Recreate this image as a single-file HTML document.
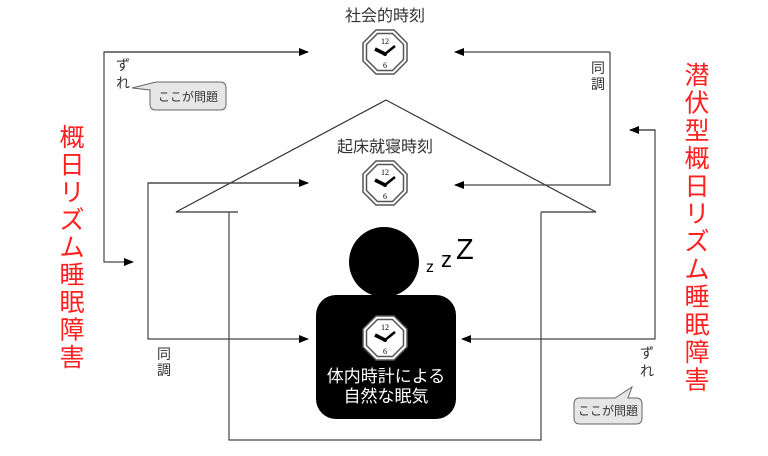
<!DOCTYPE html>
<html><head><meta charset="utf-8"><style>
body{margin:0;background:#fff;}
svg text{font-family:"Liberation Sans","Noto Sans CJK JP",sans-serif;}
</style></head><body>
<svg width="768" height="451" viewBox="0 0 768 451" xmlns="http://www.w3.org/2000/svg">
<defs>
<marker id="a" markerWidth="10" markerHeight="8" refX="9" refY="4" orient="auto" markerUnits="userSpaceOnUse"><path d="M0,0 L10,4 L0,8z" fill="#000"/></marker>
<g id="clk">
<polygon points="-9,-22 9,-22 22,-9 22,9 9,22 -9,22 -22,9 -22,-9" fill="#fff" stroke="#555" stroke-width="1.5"/>
<polygon points="-7.5,-18.5 7.5,-18.5 18.5,-7.5 18.5,7.5 7.5,18.5 -7.5,18.5 -18.5,7.5 -18.5,-7.5" fill="#fff" stroke="#555" stroke-width="1.5"/>
<text x="0" y="-8" font-size="8" text-anchor="middle" style="font-family:'Liberation Serif',serif">12</text>
<text x="0" y="16" font-size="8" text-anchor="middle" style="font-family:'Liberation Serif',serif">6</text>
<line x1="0" y1="2" x2="-10" y2="-3" stroke="#000" stroke-width="3.5"/>
<line x1="0" y1="2" x2="10" y2="-6" stroke="#000" stroke-width="2.5"/>
<circle cx="0" cy="2" r="2" fill="#000"/>
</g>
</defs>
<g fill="none" stroke="#444" stroke-width="1.2">
<polyline points="238,212 176,212 386,100 596,212 541,212" stroke="#333"/>
<polyline points="229,212 229,440 541,440 541,212"/>
<polyline points="308,52 104,52 104,262 133,262" marker-end="url(#a)"/>
<line x1="104" y1="52" x2="308" y2="52" marker-end="url(#a)"/>
<polyline points="610,52 610,185 455,185" marker-end="url(#a)"/>
<line x1="610" y1="52" x2="455" y2="52" marker-end="url(#a)"/>
<polyline points="308,183 148,183 148,339 308,339" marker-end="url(#a)"/>
<line x1="148" y1="183" x2="308" y2="183" marker-end="url(#a)"/>
<polyline points="630,130 655,130 655,339 462,339" marker-end="url(#a)"/>
<line x1="655" y1="130" x2="630" y2="130" marker-end="url(#a)"/>
</g>
<circle cx="384" cy="262" r="35" fill="#000"/>
<rect x="316" y="295" width="140" height="124" rx="20" fill="#000"/>
<text x="426" y="272" font-size="16" fill="#000">z</text>
<text x="441" y="267" font-size="22" fill="#000">z</text>
<text x="456" y="259" font-size="29" fill="#000">Z</text>
<use href="#clk" x="385" y="52"/>
<use href="#clk" x="385" y="183"/>
<use href="#clk" x="385" y="338"/>
<text x="385" y="21" font-size="16" text-anchor="middle" fill="#333">社会的時刻</text>
<text x="385" y="152" font-size="16" text-anchor="middle" fill="#333">起床就寝時刻</text>
<text x="386" y="382" font-size="17" text-anchor="middle" fill="#fff">体内時計による</text>
<text x="386" y="402" font-size="17" text-anchor="middle" fill="#fff">自然な眠気</text>
<g font-size="14" fill="#333">
<text x="116" y="70">ず</text><text x="116" y="88">れ</text>
<text x="591" y="73">同</text><text x="591" y="89">調</text>
<text x="157" y="359">同</text><text x="157" y="375">調</text>
<text x="640" y="358">ず</text><text x="640" y="376">れ</text>
</g>
<path d="M156,82 L132,88 L150,90 L150,104 Q150,110 156,110 L220,110 Q226,110 226,104 L226,88 Q226,82 220,82 Z" fill="#e6e6e6" stroke="#666"/>
<text x="188" y="101" font-size="12" text-anchor="middle" fill="#333">ここが問題</text>
<path d="M580,398 Q574,398 574,404 L574,418 Q574,424 580,424 L636,424 Q642,424 642,418 L642,404 Q642,398 636,398 L628,398 L632,387 L615,398 Z" fill="#e6e6e6" stroke="#666"/>
<text x="608" y="415" font-size="12" text-anchor="middle" fill="#333">ここが問題</text>
<g font-size="25" fill="#ff2020" text-anchor="middle">
<text x="72" y="146">概</text><text x="72" y="173.5">日</text><text x="72" y="201">リ</text><text x="72" y="228.5">ズ</text><text x="72" y="256">ム</text><text x="72" y="283.5">睡</text><text x="72" y="311">眠</text><text x="72" y="338.5">障</text><text x="72" y="366">害</text>
</g>
<g font-size="25" fill="#ff2020" text-anchor="middle">
<text x="697" y="84">潜</text><text x="697" y="111.7">伏</text><text x="697" y="139.4">型</text><text x="697" y="167.1">概</text><text x="697" y="194.8">日</text><text x="697" y="222.5">リ</text><text x="697" y="250.2">ズ</text><text x="697" y="277.9">ム</text><text x="697" y="305.6">睡</text><text x="697" y="333.3">眠</text><text x="697" y="361">障</text><text x="697" y="388.7">害</text>
</g>
</svg>
</body></html>
